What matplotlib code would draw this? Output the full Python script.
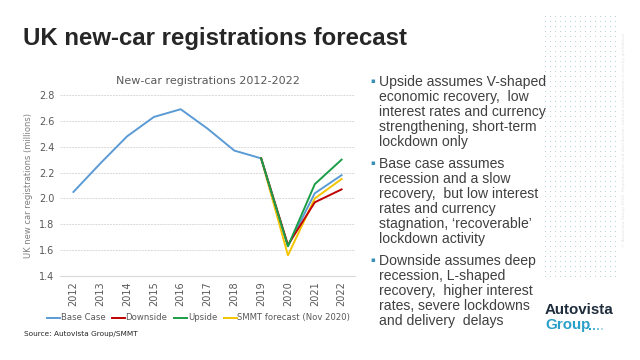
import numpy as np
import matplotlib
matplotlib.use("Agg")
import matplotlib.pyplot as plt

years = [str(y) for y in range(2012, 2023)]
base_case = [2.05, 2.27, 2.48, 2.63, 2.69, 2.54, 2.37, 2.31, 1.63, 2.04, 2.18]
downside = [None] * 7 + [2.31, 1.64, 1.97, 2.07]
upside = [None] * 7 + [2.31, 1.63, 2.11, 2.30]
smmt = [None] * 7 + [2.31, 1.56, 2.00, 2.15]

bullets = [
    ["Upside assumes V-shaped", "economic recovery,  low", "interest rates and currency",
     "strengthening, short-term", "lockdown only"],
    ["Base case assumes", "recession and a slow", "recovery,  but low interest",
     "rates and currency", "stagnation, \u2018recoverable\u2019", "lockdown activity"],
    ["Downside assumes deep", "recession, L-shaped", "recovery,  higher interest",
     "rates, severe lockdowns", "and delivery  delays"],
]

W, H = 640, 360
fig = plt.figure(figsize=(6.4, 3.6), dpi=100)
fig.patch.set_facecolor("white")

def fx(px):
    return px / W

def fy(py):
    return 1 - py / H

# decorative dot grid on the right + logo dots
dx = np.arange(545, 616, 5)
dy = np.arange(16, 280, 5)
gx, gy = np.meshgrid(dx, dy)
dots_ax = fig.add_axes([0, 0, 1, 1], zorder=-1)
dots_ax.set_xlim(0, W)
dots_ax.set_ylim(H, 0)
dots_ax.axis("off")
dots_ax.scatter(gx.ravel(), gy.ravel(), s=0.6, color="#afcddd", linewidths=0)
dots_ax.scatter([590, 594, 598, 602], [329, 329, 329, 329], s=3, marker="s",
                color=["#2a9fc9", "#4fb3d6", "#7cc6e0", "#b0dcec"], linewidths=0)

fig.text(fx(23), fy(38), "UK new-car registrations forecast", fontsize=17.3,
         fontweight="bold", color="#262626", family="Liberation Sans",
         va="center", ha="left")

ax = fig.add_axes([fx(60), fy(276), fx(355) - fx(60), (276 - 95) / H])
x = np.arange(len(years))

def clean(vals):
    return [np.nan if v is None else v for v in vals]

ax.plot(x, base_case, color="#5b9bd5", lw=1.4, label="Base Case", zorder=3)
ax.plot(x, clean(downside), color="#c00000", lw=1.4, label="Downside", zorder=4)
ax.plot(x, clean(upside), color="#1a9e46", lw=1.4, label="Upside", zorder=5)
ax.plot(x, clean(smmt), color="#f5c400", lw=1.4, label="SMMT forecast (Nov 2020)", zorder=2)

ax.set_xlim(-0.5, len(years) - 0.5)
ax.set_ylim(1.4, 2.8)
ax.set_yticks(np.arange(1.4, 2.81, 0.2))
ax.set_yticklabels([f"{v:.1f}" for v in np.arange(1.4, 2.81, 0.2)])
ax.set_xticks(x)
ax.set_xticklabels(years, rotation=90)
ax.tick_params(axis="both", length=0, labelsize=7, colors="#595959", pad=4)
ax.grid(axis="y", color="#d9d9d9", lw=0.7, ls=(0, (2, 1)))
for s in ax.spines.values():
    s.set_visible(False)
ax.spines["bottom"].set_visible(True)
ax.spines["bottom"].set_color("#d9d9d9")
ax.set_axisbelow(True)
ax.set_ylabel("UK new car registrations (millions)", fontsize=6, color="#7f7f7f", labelpad=4)
ax.set_title("New-car registrations 2012-2022", fontsize=8, color="#595959", pad=8)
ax.legend(loc="upper center", bbox_to_anchor=(0.47, -0.165), ncol=4, frameon=False,
          fontsize=6.1, labelcolor="#595959", handlelength=1.5, handletextpad=0.1,
          columnspacing=0.8)

fig.text(fx(24), fy(334), "Source: Autovista Group/SMMT", fontsize=5.3,
         color="#262626", va="center")

# bullet text
y0 = 82
lh = 15
for block in bullets:
    fig.text(fx(370), fy(y0 - 1), "\u25aa", fontsize=5, color="#3a8fb7", va="center")
    for i, line in enumerate(block):
        fig.text(fx(379), fy(y0 + i * lh), line, fontsize=10.1, color="#404040",
                 family="Liberation Sans", va="center")
    y0 += len(block) * lh + 6.8

fig.text(fx(545), fy(310), "Autovista", fontsize=10.9, fontweight="bold",
         color="#1f2d3d", family="Liberation Sans", va="center")
fig.text(fx(545), fy(325), "Group", fontsize=10.9, fontweight="bold",
         color="#2a9fc9", family="Liberation Sans", va="center")

fig.text(fx(624), fy(140), "\u00a9 Autovista Group 2020. Reproduction and distribution without authorisation is strictly prohibited",
         fontsize=3.2, color="#e2e2e2", rotation=90, va="center", ha="center")

fig.savefig("out.png", dpi=100)
